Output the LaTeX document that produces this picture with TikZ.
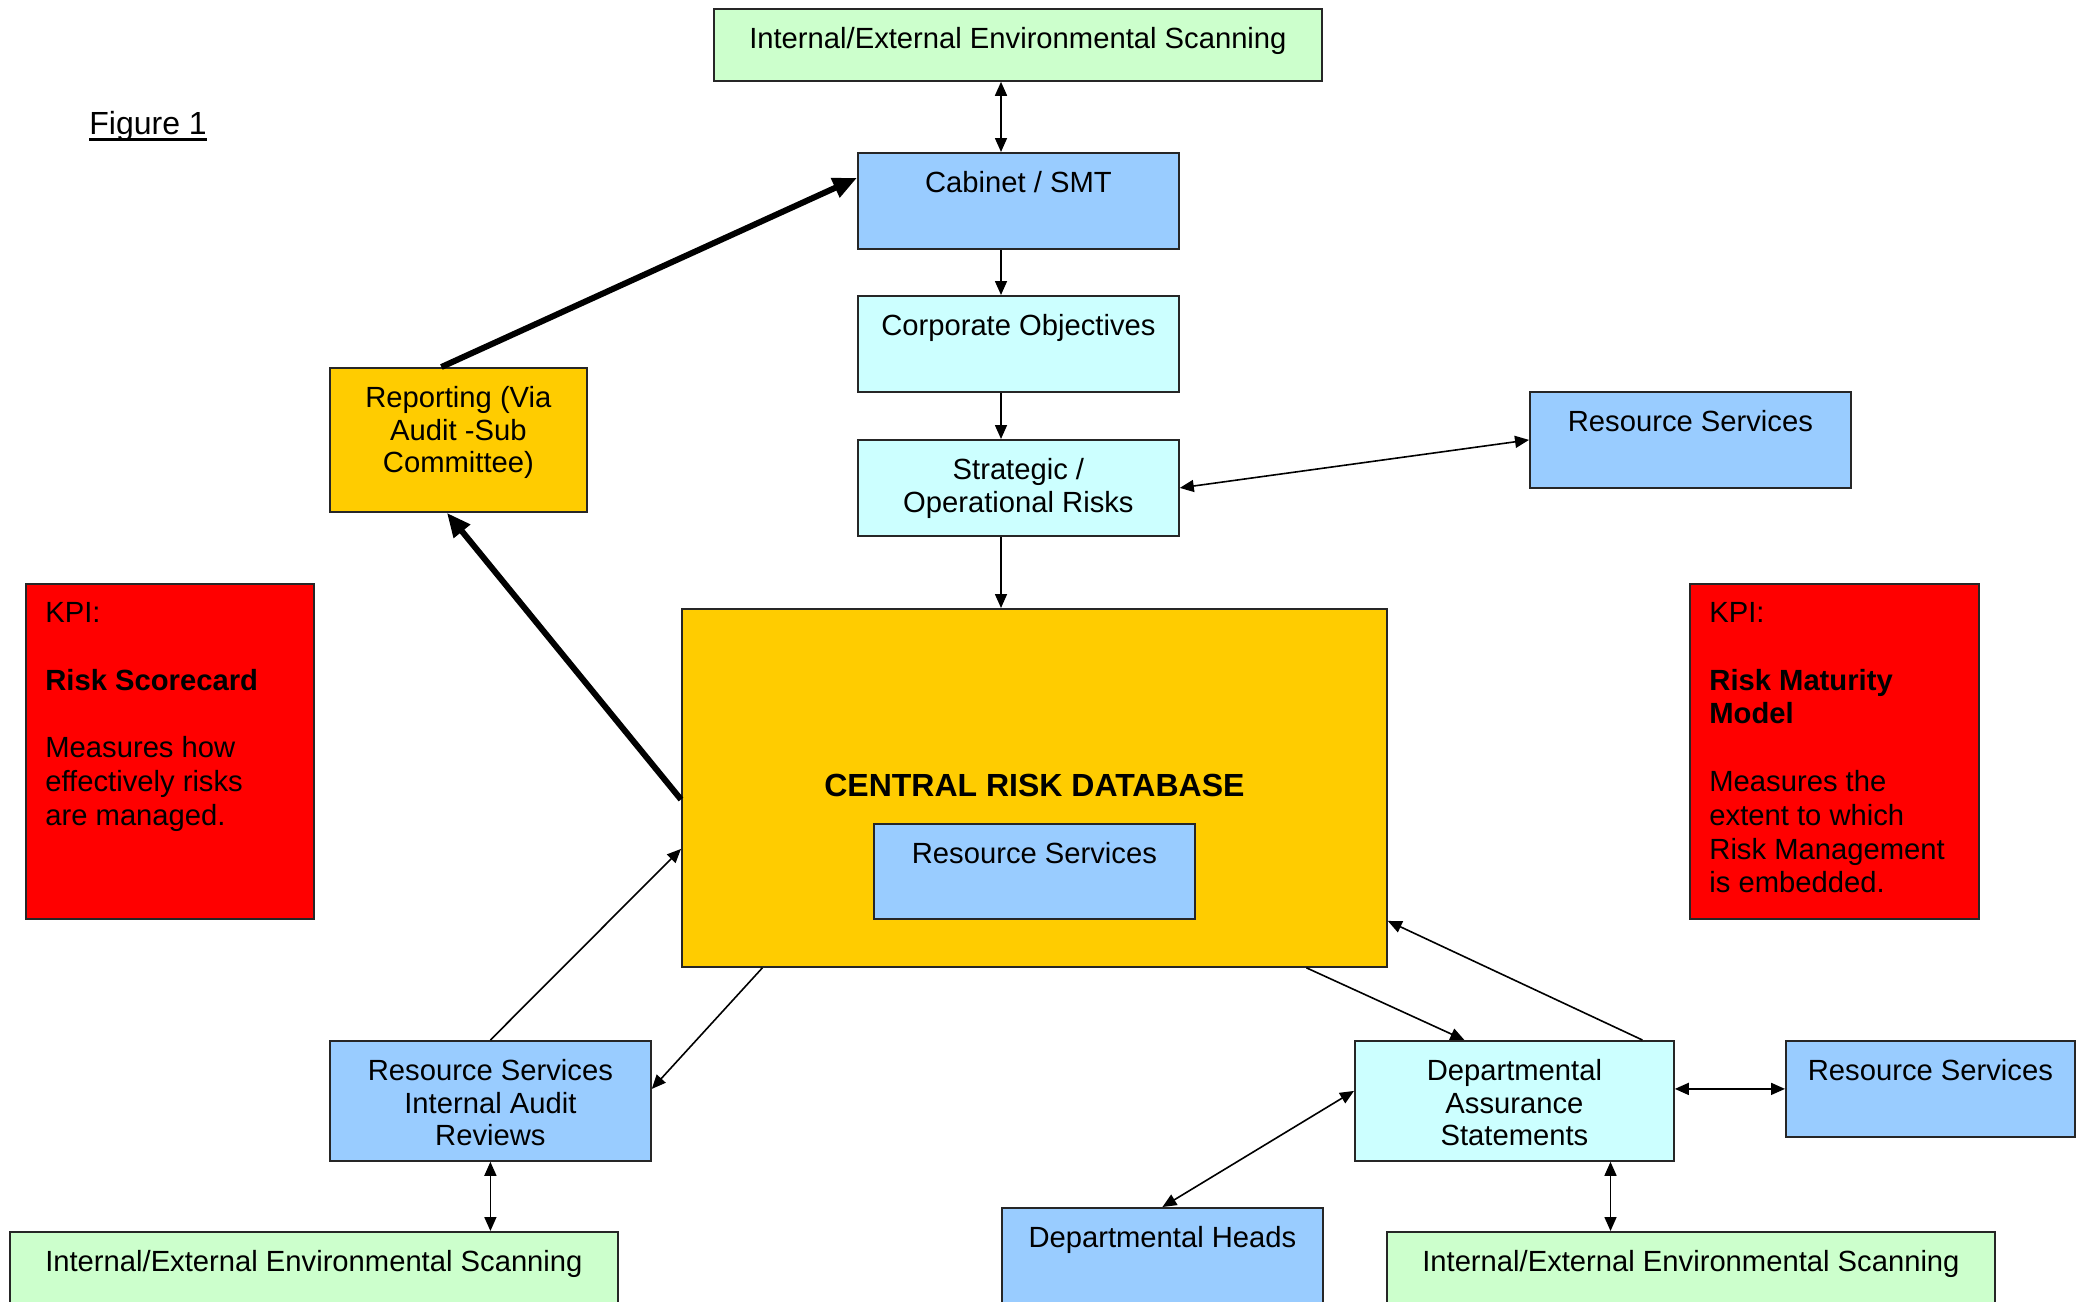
\documentclass[tikz,border=0pt]{standalone}
\usepackage{fontspec}
\setmainfont{Liberation Sans}
\usetikzlibrary{arrows.meta}

\definecolor{scangreen}{HTML}{CCFFCC}
\definecolor{serviceblue}{HTML}{99CCFF}
\definecolor{objcyan}{HTML}{CCFFFF}
\definecolor{dbgold}{HTML}{FFCC00}
\definecolor{kpired}{HTML}{FF0000}

\tikzset{
  unit/.style={draw=black!85, line width=0.9pt, inner sep=0pt, anchor=north west},
  toptext/.style={anchor=north, align=center, inner xsep=2pt, inner ysep=9.5pt},
  lefttext/.style={anchor=north west, align=left, inner xsep=10pt, inner ysep=9.5pt,
                   font=\fontsize{14.6}{16.9}\selectfont},
  link/.style={-{Triangle[length=7pt,width=6pt]}, line width=0.8pt},
  twoway/.style={{Triangle[length=7pt,width=6pt]}-{Triangle[length=7pt,width=6pt]}, line width=0.8pt},
  report/.style={-{Triangle[length=12pt,width=10pt]}, line width=3pt},
}

\begin{document}
\begin{tikzpicture}[x=0.5pt, y=-0.5pt, font=\fontsize{14.6}{16.3}\selectfont]
\clip (0,0) rectangle (2087,1301);

% Title
\node[anchor=base west, inner sep=0pt, text depth=2.3pt, font=\fontsize{16}{19}\selectfont] (fig) at (89,134) {Figure 1};
\draw[line width=1.5pt] (fig.south west) -- (fig.south east);

% Main column
\node[unit, fill=scangreen, minimum width=304pt, minimum height=36pt,
      label={[toptext]north:Internal/External Environmental Scanning}] (scanT) at (713,8) {};
\node[unit, fill=serviceblue, minimum width=160.5pt, minimum height=48pt,
      label={[toptext]north:Cabinet / SMT}] (cab) at (857,152) {};
\node[unit, fill=objcyan, minimum width=160.5pt, minimum height=48pt,
      label={[toptext]north:Corporate Objectives}] (obj) at (857,295) {};
\node[unit, fill=objcyan, minimum width=160.5pt, minimum height=48pt,
      label={[toptext]north:{Strategic /\\Operational Risks}}] (strat) at (857,439) {};
\node[unit, fill=serviceblue, minimum width=160.5pt, minimum height=48pt,
      label={[toptext]north:Resource Services}] (rsT) at (1529,391) {};
\node[unit, fill=dbgold, minimum width=128.5pt, minimum height=72pt,
      label={[toptext]north:{Reporting (Via\\Audit -Sub\\Committee)}}] (rep) at (329,367) {};

% KPI boxes
\node[unit, fill=kpired, minimum width=144pt, minimum height=167.5pt,
      label={[lefttext]north west:{KPI:\\[16.9pt]\textbf{Risk Scorecard}\\[16.9pt]Measures how\\effectively risks\\are managed.}}] (kpiL) at (25,583) {};
\node[unit, fill=kpired, minimum width=144.5pt, minimum height=167.5pt,
      label={[lefttext]north west:{KPI:\\[16.9pt]\textbf{Risk Maturity}\\\textbf{Model}\\[16.9pt]Measures the\\extent to which\\Risk Management\\is embedded.}}] (kpiR) at (1689,583) {};

% Central database
\node[unit, fill=dbgold, minimum width=352.5pt, minimum height=179pt, text depth=3pt,
      font=\fontsize{16}{19}\selectfont\bfseries] (db) at (681,608) {CENTRAL RISK DATABASE};
\node[unit, fill=serviceblue, minimum width=160.5pt, minimum height=47.5pt,
      label={[toptext]north:Resource Services}] (rsIn) at (873,823) {};

% Lower row
\node[unit, fill=serviceblue, minimum width=160.5pt, minimum height=60pt,
      label={[toptext]north:{Resource Services\\Internal Audit\\Reviews}}] (rsIA) at (329,1040) {};
\node[unit, fill=objcyan, minimum width=159.5pt, minimum height=60pt,
      label={[toptext]north:{Departmental\\Assurance\\Statements}}] (da) at (1354,1040) {};
\node[unit, fill=serviceblue, minimum width=144.5pt, minimum height=48pt,
      label={[toptext]north:Resource Services}] (rsR) at (1785,1040) {};
\node[unit, fill=serviceblue, minimum width=160.5pt, minimum height=65pt,
      label={[toptext]north:Departmental Heads}] (dh) at (1001,1207) {};
\node[unit, fill=scangreen, minimum width=304pt, minimum height=65pt,
      label={[toptext]north:Internal/External Environmental Scanning}] (scanL) at (9,1231) {};
\node[unit, fill=scangreen, minimum width=304pt, minimum height=65pt,
      label={[toptext]north:Internal/External Environmental Scanning}] (scanR) at (1386,1231) {};

% Column lines
\coordinate (col) at (1001,0);
\coordinate (colR) at (1610.5,0);

\draw[twoway] (scanT.south -| col) -- (cab.north -| col);
\foreach \a/\b in {cab/obj, obj/strat, strat/db}
    \draw[link] (\a.south -| col) -- (\b.north -| col);
\draw[twoway] (strat.east) -- (rsT.west);

% Reporting loop
\draw[report] ([xshift=-8.5pt]rep.north) -- ([yshift=11.5pt]cab.west);
\draw[report] ([yshift=-5.8pt]db.west) -- ([xshift=-5.75pt]rep.south);

% Internal audit
\draw[link] (rsIA.north) -- ([yshift=-30.5pt]db.west);
\draw[link] ([xshift=-136pt]db.south) -- ([yshift=6pt]rsIA.east);
\draw[twoway] (rsIA.south) -- (rsIA.south |- scanL.north);

% Departmental assurance
\draw[link] ([xshift=136pt]db.south) -- ([xshift=-25pt]da.north);
\draw[link] ([xshift=64pt]da.north) -- ([yshift=-66.5pt]db.east);
\draw[twoway] (da.east |- rsR.west) -- (rsR.west);
\draw[twoway] ([yshift=5pt]da.west) -- (dh.north);
\draw[twoway] (da.south -| colR) -- (scanR.north -| colR);
\end{tikzpicture}
\end{document}
